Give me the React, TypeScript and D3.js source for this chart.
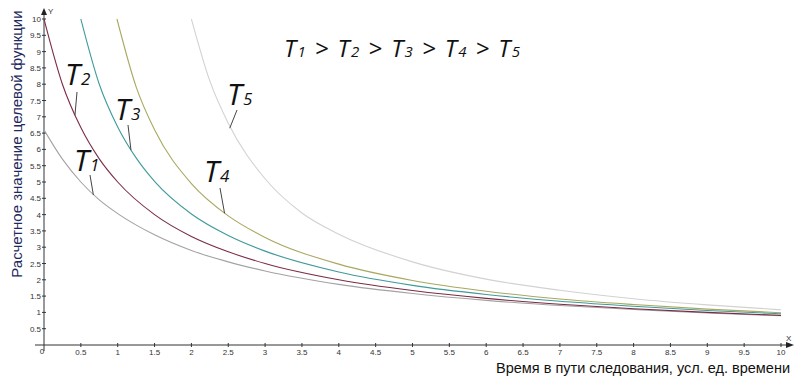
import React from "react";
import * as d3 from "d3";

const W = 806;
const H = 378;

const t1X = [0, 0.25, 0.5, 0.75, 1, 1.5, 2, 2.5, 3, 4, 5, 6, 7, 8, 9, 10];
const t1Y = [6.6, 5.7, 5.0, 4.45, 4.03, 3.38, 2.9, 2.55, 2.27, 1.86, 1.58, 1.37, 1.21, 1.09, 0.98, 0.9];
const t2X = [0, 0.25, 0.5, 0.75, 1, 1.5, 2, 2.5, 3, 4, 5, 6, 7, 8, 9, 10];
const t2Y = [10, 8.0, 6.67, 5.71, 5.0, 4.0, 3.33, 2.86, 2.5, 2.0, 1.67, 1.43, 1.25, 1.11, 1.0, 0.91];
const t3X = [0.5, 0.75, 1, 1.25, 1.5, 2, 2.5, 3, 4, 5, 6, 7, 8, 9, 10];
const t3Y = [10, 8.0, 6.69, 5.74, 5.02, 4.02, 3.36, 2.88, 2.24, 1.83, 1.55, 1.34, 1.19, 1.06, 0.96];
const t4X = [0.99, 1.25, 1.5, 2, 2.5, 3, 4, 5, 6, 7, 8, 9, 10];
const t4Y = [10, 7.92, 6.6, 4.95, 3.96, 3.3, 2.48, 1.98, 1.65, 1.41, 1.24, 1.1, 0.99];
const t5X = [2, 2.25, 2.5, 3, 3.5, 4, 5, 6, 7, 8, 9, 10];
const t5Y = [10, 8.1, 6.8, 5.1, 4.05, 3.4, 2.55, 2.02, 1.68, 1.42, 1.23, 1.08];

const seriesColors = ["#a3a3a3", "#7b2c44", "#3f9a9c", "#a9a860", "#d2d2d2"];
const seriesNames = ["1", "2", "3", "4", "5"];

const ticks = d3.range(1, 21).map((i) => i * 0.5);
const fmt = (v: number) => String(v);

const xTitle = "Время в пути следования, усл. ед. времени";
const yTitle = "Расчетное значение целевой функции";

export default function App() {
  const x = d3.scaleLinear().domain([0, 10]).range([44, 781]);
  const y = d3.scaleLinear().domain([0, 10]).range([345, 19]);
  const line = d3
    .line<[number, number]>()
    .x((d) => x(d[0]))
    .y((d) => y(d[1]))
    .curve(d3.curveMonotoneX);

  const all = [
    [t1X, t1Y],
    [t2X, t2Y],
    [t3X, t3Y],
    [t4X, t4Y],
    [t5X, t5Y],
  ];

  const labels = [
    { n: "1", tx: 74, ty: 171, p1: [90, 175], p2: [x(0.67), y(4.6)] },
    { n: "2", tx: 65, ty: 85, p1: [77, 92], p2: [x(0.42), y(7.05)] },
    { n: "3", tx: 115, ty: 120, p1: [128, 125], p2: [x(1.18), y(5.98)] },
    { n: "4", tx: 204, ty: 182, p1: [220, 188], p2: [x(2.45), y(4.04)] },
    { n: "5", tx: 227, ty: 105, p1: [237, 110], p2: [x(2.52), y(6.65)] },
  ];

  const tickFont = "Liberation Sans, Arial, sans-serif";
  const labelFont = "Open Sans, Noto Sans, sans-serif";
  const titleFont = "Liberation Sans, Arial, sans-serif";

  return (
    <svg
      width={W}
      height={H}
      style={{ position: "absolute", left: 0, top: 0, background: "#fff" }}
    >
      <rect x={0} y={0} width={W} height={H} fill="#fff" />
      <line x1={35} y1={y(0)} x2={788} y2={y(0)} stroke="#333" strokeWidth={1} />
      <path d={`M794,${y(0)} L786,${y(0) - 3} L786,${y(0) + 3} Z`} fill="#222" />
      <line x1={x(0)} y1={351} x2={x(0)} y2={14} stroke="#333" strokeWidth={1} />
      <path d={`M${x(0)},8 L${x(0) - 3},15 L${x(0) + 3},15 Z`} fill="#222" />
      <text x={48} y={14} fontSize={8} fontFamily={tickFont} fill="#333">Y</text>
      <text x={786} y={341} fontSize={8} fontFamily={tickFont} fill="#333">X</text>

      {ticks.map((t) => (
        <g key={"x" + t}>
          <line x1={x(t)} x2={x(t)} y1={y(0) - 2} y2={y(0) + 2} stroke="#333" />
          <text x={x(t)} y={355} fontSize={8} fontFamily={tickFont} fill="#333" textAnchor="middle">
            {fmt(t)}
          </text>
        </g>
      ))}
      {ticks.map((t) => (
        <g key={"y" + t}>
          <line x1={x(0) - 2} x2={x(0) + 2} y1={y(t)} y2={y(t)} stroke="#333" />
          <text x={41} y={y(t) + 3} fontSize={8} fontFamily={tickFont} fill="#333" textAnchor="end">
            {fmt(t)}
          </text>
        </g>
      ))}
      <text x={42} y={354} fontSize={8} fontFamily={tickFont} fill="#333" textAnchor="middle">0</text>

      {all.map(([xs, ys], i) => (
        <path
          key={"s" + i}
          d={line(xs.map((v, j) => [v, ys[j]] as [number, number])) || ""}
          fill="none"
          stroke={seriesColors[i]}
          strokeWidth={1.1}
        />
      ))}

      {labels.map((l) => (
        <g key={"l" + l.n}>
          <line x1={l.p1[0]} y1={l.p1[1]} x2={l.p2[0]} y2={l.p2[1]} stroke="#444" strokeWidth={1} />
          <text x={l.tx} y={l.ty} fontFamily={labelFont} fontStyle="italic" fill="#111">
            <tspan fontSize={30}>T</tspan>
            <tspan fontSize={17} dx={1}>{seriesNames[Number(l.n) - 1]}</tspan>
          </text>
        </g>
      ))}

      <text
        x={284}
        y={57}
        fontFamily={labelFont}
        fontStyle="italic"
        fill="#111"
        textLength={236}
        lengthAdjust="spacing"
      >
        <tspan fontSize={24}>T</tspan>
        <tspan fontSize={15}>1</tspan>
        <tspan fontSize={24}>{" > T"}</tspan>
        <tspan fontSize={15}>2</tspan>
        <tspan fontSize={24}>{" > T"}</tspan>
        <tspan fontSize={15}>3</tspan>
        <tspan fontSize={24}>{" > T"}</tspan>
        <tspan fontSize={15}>4</tspan>
        <tspan fontSize={24}>{" > T"}</tspan>
        <tspan fontSize={15}>5</tspan>
      </text>

      <text
        x={790}
        y={373}
        fontSize={14.5}
        fontFamily={titleFont}
        fill="#111"
        textAnchor="end"
      >
        {xTitle}
      </text>
      <text
        transform={`translate(22,${144}) rotate(-90)`}
        fontSize={15}
        fontFamily={titleFont}
        fill="#1e2a5e"
        textAnchor="middle"
      >
        {yTitle}
      </text>
    </svg>
  );
}
